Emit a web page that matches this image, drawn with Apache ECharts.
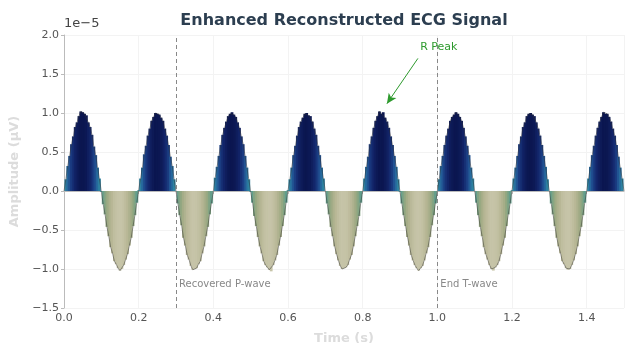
<!DOCTYPE html>
<html>
<head>
<meta charset="utf-8">
<script src="https://cdn.jsdelivr.net/npm/echarts@6/dist/echarts.min.js"></script>
<style>
  html, body { margin: 0; padding: 0; background: #fff; }
  #main { width: 625px; height: 343px; }
</style>
</head>
<body>
<div id="main"></div>
<script>
// sample step (s) and amplitude values (x 1e-5)
var dt = 0.005;
var amp = [
  // 0.0 - 0.2
  0.00,0.15,0.32,0.45,0.60,0.70,0.82,0.88,0.96,1.02,1.01,0.99,0.97,0.88,0.82,0.72,0.57,0.46,0.30,0.16,
  -0.01,-0.17,-0.30,-0.46,-0.58,-0.72,-0.80,-0.90,-0.94,-0.99,-1.02,-1.00,-0.95,-0.88,-0.81,-0.70,-0.60,-0.45,-0.31,-0.15,
  // 0.2 - 0.4
  0.01,0.16,0.30,0.47,0.58,0.71,0.80,0.90,0.95,1.00,0.99,0.98,0.94,0.90,0.80,0.71,0.59,0.44,0.32,0.15,
  0.00,-0.16,-0.31,-0.44,-0.60,-0.70,-0.82,-0.88,-0.96,-1.01,-1.00,-0.99,-0.94,-0.90,-0.80,-0.71,-0.58,-0.46,-0.30,-0.16,
  // 0.4 - 0.6
  0.00,0.17,0.31,0.45,0.59,0.72,0.81,0.89,0.96,0.99,1.01,0.98,0.95,0.88,0.81,0.70,0.60,0.45,0.30,0.15,
  -0.01,-0.15,-0.32,-0.45,-0.59,-0.71,-0.80,-0.90,-0.95,-0.98,-1.01,-1.03,-0.95,-0.89,-0.82,-0.70,-0.59,-0.45,-0.31,-0.15,
  // 0.6 - 0.8
  0.01,0.15,0.30,0.46,0.58,0.71,0.82,0.89,0.94,0.99,1.00,0.97,0.96,0.89,0.80,0.72,0.58,0.46,0.30,0.16,
  0.00,-0.16,-0.30,-0.46,-0.58,-0.71,-0.81,-0.89,-0.96,-1.00,-0.99,-0.98,-0.95,-0.88,-0.82,-0.71,-0.58,-0.45,-0.32,-0.15,
  // 0.8 - 1.0
  0.00,0.16,0.31,0.44,0.60,0.70,0.81,0.90,0.96,1.02,0.99,1.01,0.94,0.89,0.81,0.70,0.59,0.45,0.31,0.15,
  -0.01,-0.16,-0.31,-0.45,-0.59,-0.70,-0.82,-0.89,-0.95,-0.99,-1.02,-0.99,-0.96,-0.89,-0.80,-0.72,-0.59,-0.44,-0.31,-0.16,
  // 1.0 - 1.2
  0.00,0.15,0.32,0.45,0.59,0.71,0.80,0.90,0.95,0.98,1.01,0.99,0.95,0.90,0.81,0.70,0.58,0.46,0.30,0.16,
  0.00,-0.15,-0.31,-0.46,-0.58,-0.72,-0.81,-0.88,-0.95,-1.00,-1.02,-0.98,-0.95,-0.90,-0.81,-0.70,-0.60,-0.45,-0.30,-0.16,
  // 1.2 - 1.4
  0.01,0.16,0.30,0.45,0.60,0.70,0.82,0.88,0.96,0.99,1.00,0.98,0.96,0.88,0.80,0.71,0.59,0.45,0.31,0.15,
  0.00,-0.16,-0.30,-0.45,-0.60,-0.71,-0.80,-0.90,-0.94,-0.99,-1.01,-1.00,-0.95,-0.89,-0.81,-0.71,-0.58,-0.46,-0.31,-0.15,
  // 1.4 - 1.5
  0.00,0.16,0.31,0.46,0.58,0.71,0.81,0.89,0.95,1.01,0.99,0.99,0.95,0.89,0.80,0.71,0.59,0.44,0.30,0.16,0.00
];
// annotation positions
var markerLines = [0.3, 1.0];
var markerTexts = ['Recovered P-wave', 'End T-wave'];
var peakArrow = [[0.948, 1.70], [0.865, 1.12]];
var peakText = [1.004, 1.84];

var pts = [];
for (var i = 0; i < amp.length; i++) {
  pts.push([+(i * dt).toFixed(3), amp[i]]);
}

var fnt = 'DejaVu Sans';
var myChart = echarts.init(document.getElementById('main'));

var markPts = [];
for (var j = 0; j < markerLines.length; j++) {
  markPts.push({
    coord: [markerLines[j] + 0.008, -1.2],
    symbol: 'rect', symbolSize: 0,
    label: { show: true, position: 'right', distance: 0, formatter: markerTexts[j],
      color: '#888', fontSize: 10, fontFamily: fnt }
  });
}
markPts.push({
  coord: peakText, symbol: 'rect', symbolSize: 0,
  label: { show: true, position: 'inside', formatter: 'R Peak',
    color: '#2e9a2e', fontSize: 11, fontFamily: fnt }
});

option = {
  animation: false,
  backgroundColor: '#fff',
  grid: { left: 64, right: 1, top: 35, bottom: 35, containLabel: false, outerBoundsMode: 'none' },
  visualMap: {
    show: false,
    type: 'continuous',
    seriesIndex: 0,
    dimension: 1,
    min: -1.0, max: 1.0,
    inRange: {
      color: ['#c6c4a8', '#b8b796', '#a6ad88', '#8fa67f', '#6ea088', '#3a9498',
              '#2a7ca2', '#235a98', '#1a3a80', '#122468', '#0b1650']
    }
  },
  xAxis: {
    type: 'value', min: 0, max: 1.5, interval: 0.2,
    name: 'Time (s)', nameLocation: 'middle', nameGap: 24,
    nameTextStyle: { color: '#dcdcdc', fontSize: 13, fontWeight: 'bold', fontFamily: fnt },
    axisLine: { lineStyle: { color: '#bbb' } },
    axisTick: { show: true, length: 3, lineStyle: { color: '#bbb' } },
    axisLabel: { showMaxLabel: false, color: '#555', fontSize: 11, fontFamily: fnt, margin: 5,
      formatter: function (v) { return v.toFixed(1); } },
    splitLine: { show: true, lineStyle: { color: '#f3f3f3' } }
  },
  yAxis: {
    type: 'value', min: -1.5, max: 2.0, interval: 0.5,
    name: 'Amplitude (μV)', nameLocation: 'middle', nameGap: 42,
    nameTextStyle: { color: '#dcdcdc', fontSize: 13, fontWeight: 'bold', fontFamily: fnt },
    axisLine: { show: true, lineStyle: { color: '#bbb' } },
    axisTick: { show: true, length: 3, lineStyle: { color: '#bbb' } },
    axisLabel: { color: '#555', fontSize: 11, fontFamily: fnt, margin: 5,
      formatter: function (v) { return v.toFixed(1).replace('-', '\u2212'); } },
    splitLine: { show: true, lineStyle: { color: '#f3f3f3' } }
  },
  graphic: [
    { type: 'text', x: 344, y: 13, style: { text: 'Enhanced Reconstructed ECG Signal',
        fill: '#2c3e50', font: 'bold 16px "DejaVu Sans"', textAlign: 'center' } },
    { type: 'text', x: 64, y: 17, style: { text: '1e\u22125',
        fill: '#444', font: '13px "DejaVu Sans"' } }
  ],
  series: [
    {
      type: 'bar',
      data: pts,
      barWidth: 2.8,
      barGap: '-100%',
      silent: true
    },
    {
      type: 'line',
      data: pts,
      showSymbol: false,
      lineStyle: { color: '#333', width: 0.7, opacity: 0.7 },
      z: 3,
      silent: true,
      markLine: {
        silent: true,
        symbol: 'none',
        label: { show: false },
        lineStyle: { color: '#888', type: [4, 3], width: 1 },
        data: [
          { xAxis: markerLines[0] },
          { xAxis: markerLines[1] },
          [
            { coord: peakArrow[0], symbol: 'none',
              lineStyle: { color: '#2e9a2e', type: 'solid', width: 1 } },
            { coord: peakArrow[1], symbol: 'arrow', symbolSize: [7, 10] }
          ]
        ]
      },
      markPoint: { silent: true, data: markPts }
    }
  ]
};
myChart.setOption(option);
window.addEventListener('resize', function () {
  myChart.resize();
});
</script>
</body>
</html>
